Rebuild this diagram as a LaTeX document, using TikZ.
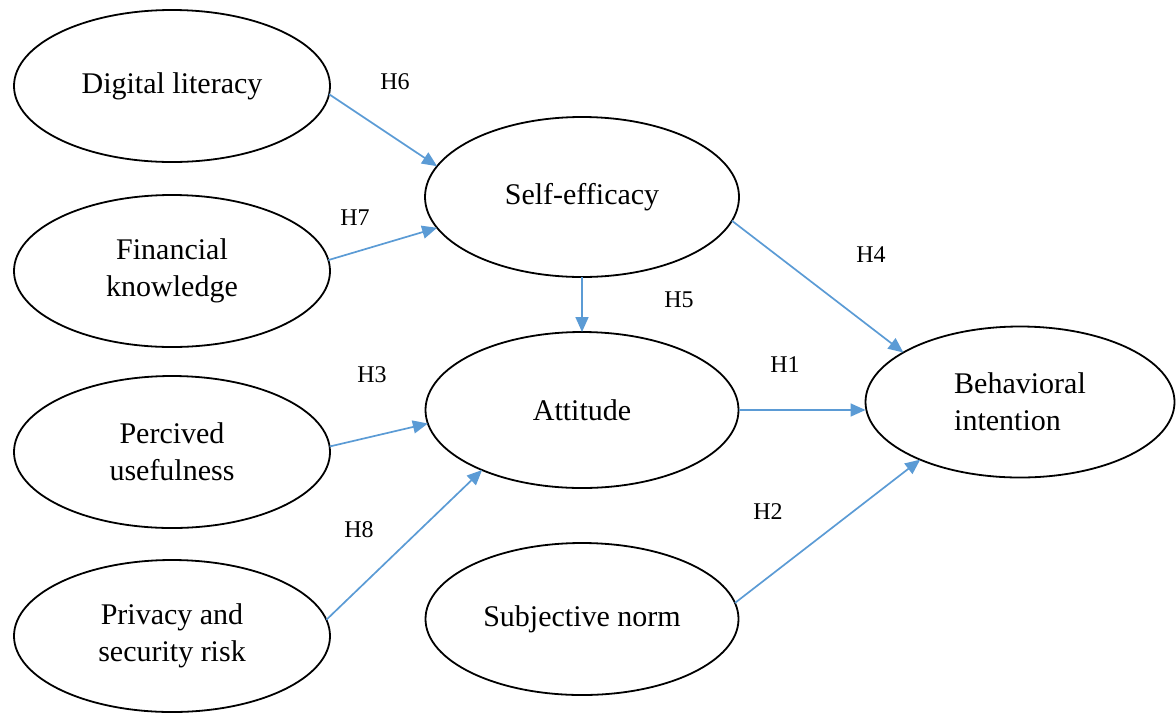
\documentclass[tikz,border=0pt]{standalone}
\usepackage{fontspec}
\setmainfont{Liberation Serif}
\usetikzlibrary{shapes.geometric,arrows.meta}
\definecolor{arrowblue}{RGB}{91,155,213}
\begin{document}
\begin{tikzpicture}[x=0.5pt,y=-0.5pt,
  construct/.style={ellipse,draw=black,line width=0.9pt,inner sep=0pt,outer sep=0pt,
    align=center,font=\fontsize{15}{18.5}\selectfont},
  leftbox/.style={construct,minimum width=158pt,minimum height=76pt},
  link/.style={draw=arrowblue,line width=0.85pt,-{Triangle[length=7.5pt,width=6.5pt]}},
  hyp/.style={font=\fontsize{12}{14}\selectfont,inner sep=0pt}]
\useasboundingbox (0,0) rectangle (1176,713);
% left column
\node[leftbox] (dl) at (172,86) {Digital literacy};
\node[leftbox] (fk) at (172,271) {Financial\\knowledge};
\node[leftbox] (pu) at (172,452) {Percived\\usefulness};
\node[leftbox] (psr) at (172,636) {Privacy and\\security risk};
% middle column
\node[construct,minimum width=157pt,minimum height=80pt] (se) at (582,197) {Self-efficacy};
\node[construct,minimum width=156.5pt,minimum height=78pt] (att) at (582,410) {Attitude};
\node[construct,minimum width=156.5pt,minimum height=76pt] (sn) at (582,619) {Subjective norm};
% right
\node[construct,align=left,minimum width=154.5pt,minimum height=75.5pt] (bi) at (1020,402) {Behavioral\\intention};
% connectors
\draw[link] (dl.-3) -- (se.168.5);
\draw[link] (fk.4) -- (se.-168.2);
\draw[link] (se.south) -- (att.north);
\draw[link] (se.-9) -- (bi.157.8);
\draw[link] (att.east) -- (att.east -| bi.west);
\draw[link] (pu.2.5) -- (att.-175.6);
\draw[link] (psr.6) -- (att.-149.3);
\draw[link] (sn.6) -- (bi.-150);
% hypothesis labels
\node[hyp] (h6) at (395,82) {H6};
\node[hyp] (h7) at (355,218) {H7};
\node[hyp] (h5) at (679,300) {H5};
\node[hyp] (h4) at (871,255) {H4};
\node[hyp] (h1) at (785,365) {H1};
\node[hyp] (h3) at (372,375) {H3};
\node[hyp] (h8) at (359,530) {H8};
\node[hyp] (h2) at (768,512) {H2};
\end{tikzpicture}
\end{document}
